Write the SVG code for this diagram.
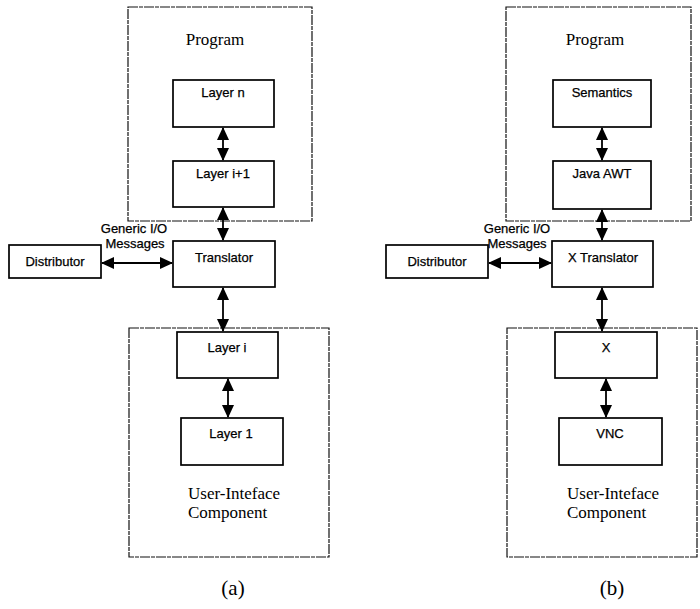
<svg xmlns="http://www.w3.org/2000/svg" width="700" height="609" viewBox="0 0 700 609">
<defs>
<marker id="ah" markerUnits="userSpaceOnUse" markerWidth="13" markerHeight="13" refX="12" refY="6.5" orient="auto-start-reverse" viewBox="0 0 13 13">
<path d="M0,0.5 L13,6.5 L0,12.5 z" fill="#000"/>
</marker>
<style>
.bg{fill:#fff}
.box{fill:#fff;stroke:#000;stroke-width:1.7}
.grp{fill:none;stroke:#111;stroke-width:1.2;stroke-dasharray:10 1 4 1}
.lbl{font-family:"Liberation Sans",Arial,sans-serif;font-size:13px;fill:#000;stroke:#000;stroke-width:0.25;text-anchor:middle}
.ser{font-family:"Liberation Serif","Times New Roman",serif;font-size:17px;fill:#000}
.cap{font-family:"Liberation Serif","Times New Roman",serif;font-size:21px;fill:#000;text-anchor:middle}
.conn{stroke:#000;stroke-width:1.8;fill:none;marker-start:url(#ah);marker-end:url(#ah)}
</style>
</defs>
<rect class="bg" x="0" y="0" width="700" height="609"/>

<g id="groups">
<g id="a-program"><rect class="grp" x="128" y="7" width="184" height="214"/><text class="ser" x="215" y="45" text-anchor="middle">Program</text></g>
<g id="a-ui"><rect class="grp" x="129" y="328" width="200" height="229"/><text class="ser" x="188" y="499">User-Inteface</text><text class="ser" x="188" y="518">Component</text></g>
<g id="b-program"><rect class="grp" x="506" y="7" width="185" height="214"/><text class="ser" x="595" y="45" text-anchor="middle">Program</text></g>
<g id="b-ui"><rect class="grp" x="507" y="328" width="190" height="229"/><text class="ser" x="567" y="499">User-Inteface</text><text class="ser" x="567" y="518">Component</text></g>
</g>

<g id="connectors">
<line class="conn" x1="223" y1="128" x2="223" y2="160"/>
<line class="conn" x1="223" y1="208" x2="223" y2="240"/>
<line class="conn" x1="102" y1="263" x2="172" y2="263"/>
<line class="conn" x1="223" y1="288" x2="223" y2="331"/>
<line class="conn" x1="228" y1="379" x2="228" y2="417"/>
<line class="conn" x1="602" y1="128" x2="602" y2="160"/>
<line class="conn" x1="602" y1="210" x2="602" y2="240"/>
<line class="conn" x1="489" y1="263" x2="551" y2="263"/>
<line class="conn" x1="602" y1="288" x2="602" y2="331"/>
<line class="conn" x1="606" y1="379" x2="606" y2="417"/>
</g>

<g id="a-layern"><rect class="box" x="173" y="80" width="101" height="47"/><text class="lbl" x="223" y="97">Layer n</text></g>
<g id="a-layeri1"><rect class="box" x="173" y="161" width="101" height="46"/><text class="lbl" x="223" y="178">Layer  i+1</text></g>
<g id="a-translator"><rect class="box" x="173" y="241" width="102" height="46"/><text class="lbl" x="224" y="262">Translator</text></g>
<g id="a-distributor"><rect class="box" x="9" y="245" width="92" height="33"/><text class="lbl" x="55" y="266">Distributor</text></g>
<g id="a-msg"><text class="lbl" x="134" y="233">Generic I/O</text><text class="lbl" x="135" y="248">Messages</text></g>
<g id="a-layeri"><rect class="box" x="177" y="332" width="101" height="46"/><text class="lbl" x="227" y="352">Layer  i</text></g>
<g id="a-layer1"><rect class="box" x="181" y="418" width="102" height="47"/><text class="lbl" x="231" y="438">Layer 1</text></g>
<text class="cap" x="233" y="595">(a)</text>

<g id="b-semantics"><rect class="box" x="553" y="80" width="98" height="47"/><text class="lbl" x="602" y="97">Semantics</text></g>
<g id="b-javaawt"><rect class="box" x="553" y="161" width="98" height="48"/><text class="lbl" x="602" y="178">Java AWT</text></g>
<g id="b-xtranslator"><rect class="box" x="552" y="241" width="101" height="46"/><text class="lbl" x="603" y="262">X Translator</text></g>
<g id="b-distributor"><rect class="box" x="386" y="245" width="102" height="33"/><text class="lbl" x="437" y="266">Distributor</text></g>
<g id="b-msg"><text class="lbl" x="517" y="233">Generic I/O</text><text class="lbl" x="517" y="248">Messages</text></g>
<g id="b-x"><rect class="box" x="555" y="332" width="102" height="46"/><text class="lbl" x="606" y="352">X</text></g>
<g id="b-vnc"><rect class="box" x="559" y="418" width="103" height="47"/><text class="lbl" x="610" y="438">VNC</text></g>
<text class="cap" x="612" y="595">(b)</text>
</svg>
